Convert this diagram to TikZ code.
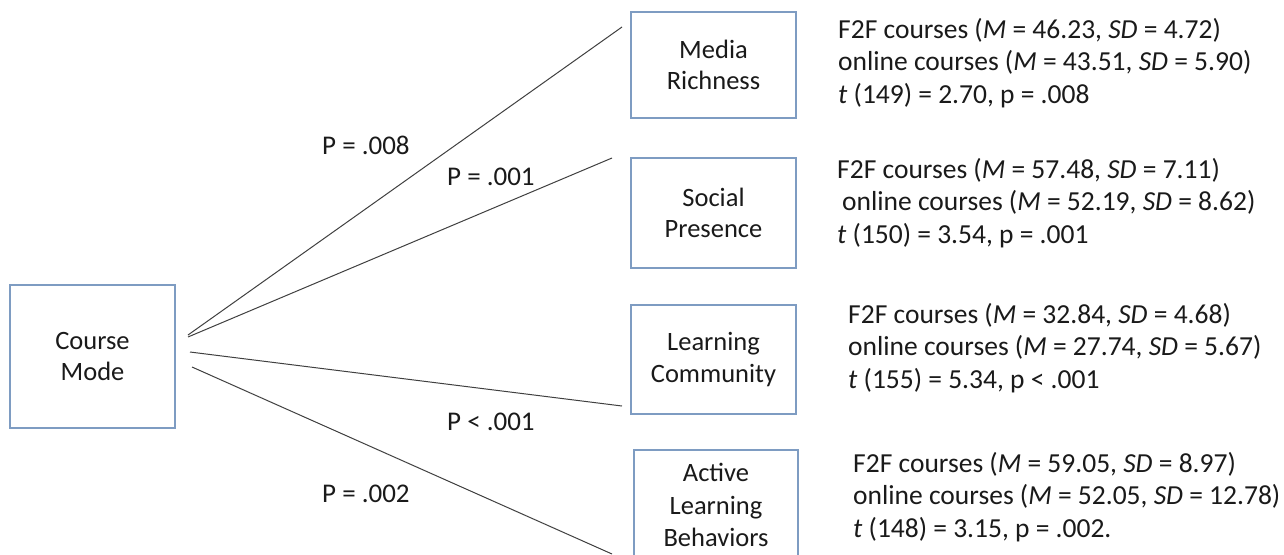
\documentclass[tikz,border=0pt]{standalone}
\usepackage{fontspec}
\setmainfont{Carlito}
\begin{document}
\begin{tikzpicture}[x=1pt,y=-1pt,
  box/.style={draw=boxblue, line width=1.2pt, fill=white, align=center, font=\fontsize{26.5}{31.5}\selectfont, text=txt, inner sep=0pt},
  conn/.style={draw=linegray, line width=1pt},
  plab/.style={font=\fontsize{27}{30}\selectfont, text=txt, anchor=base west, inner sep=0pt},
  stats/.style={font=\fontsize{27.5}{32.5}\selectfont, text=txt, align=left, anchor=base west, inner sep=0pt}]
\definecolor{boxblue}{HTML}{7E9CC2}
\definecolor{linegray}{HTML}{404040}
\definecolor{txt}{HTML}{1A1A1A}
\useasboundingbox (0,0) rectangle (1284,554);
\clip (0,0) rectangle (1284,554);
\fill[white] (0,0) rectangle (1284,554);
% boxes
\node[box, minimum width=165pt, minimum height=143pt] (cm) at (92.5,356.5) {Course\\Mode};
\node[box, minimum width=165pt, minimum height=106pt] (mr) at (713.5,65) {Media\\Richness};
\node[box, minimum width=165pt, minimum height=110pt] (sp) at (713.5,213) {Social\\Presence};
\node[box, minimum width=165pt, minimum height=109pt] (lc) at (713.5,359.5) {Learning\\Community};
\node[box, minimum width=164pt, minimum height=120pt] (al) at (716,510) {};
\node[font=\fontsize{26.5}{32.5}\selectfont, text=txt, align=center, inner sep=0pt] (allab) at (716,505) {Active\\Learning\\Behaviors};
% connector end points
\coordinate (s1) at (188,335);
\coordinate (s2) at (188,337);
\coordinate (s3) at (190,352);
\coordinate (s4) at (192,367);
\coordinate (e1) at (622,27);
\coordinate (e2) at (612,158);
\coordinate (e3) at (622,406);
\coordinate (e4) at (612,554);
\draw[conn] (s1) -- (e1);
\draw[conn] (s2) -- (e2);
\draw[conn] (s3) -- (e3);
\draw[conn] (s4) -- (e4);
% p labels
\node[plab] (p1) at (322,154) {P = .008};
\node[plab] (p2) at (447,185) {P = .001};
\node[plab] (p3) at (447,430) {P < .001};
\node[plab] (p4) at (322,502) {P = .002};
% stats (anchored at the baseline of the last line)
\node[stats] (t1) at (838,103) {F2F courses (\textit{M} = 46.23, \textit{SD} = 4.72)\\online courses (\textit{M} = 43.51, \textit{SD} = 5.90)\\\textit{t} (149) = 2.70, p = .008};
\node[stats] (t2) at (837,243) {F2F courses (\textit{M} = 57.48, \textit{SD} = 7.11)\\\hspace*{5pt}online courses (\textit{M} = 52.19, \textit{SD} = 8.62)\\\textit{t} (150) = 3.54, p = .001};
\node[stats] (t3) at (848,388) {F2F courses (\textit{M} = 32.84, \textit{SD} = 4.68)\\online courses (\textit{M} = 27.74, \textit{SD} = 5.67)\\\textit{t} (155) = 5.34, p < .001};
\node[stats] (t4) at (853,537) {F2F courses (\textit{M} = 59.05, \textit{SD} = 8.97)\\online courses (\textit{M} = 52.05, \textit{SD} = 12.78)\\\textit{t} (148) = 3.15, p = .002.};
\end{tikzpicture}
\end{document}
